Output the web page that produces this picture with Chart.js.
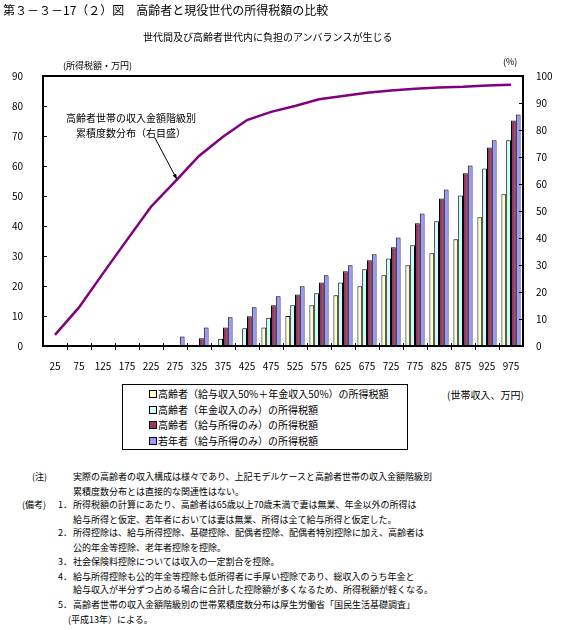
<!DOCTYPE html>
<html>
<head>
<meta charset="utf-8">
<script src="https://cdn.jsdelivr.net/npm/chart.js@4.4.1/dist/chart.umd.min.js"></script>
<style>
  body { margin: 0; background: #fff; font-family: "Noto Sans CJK JP", sans-serif; color: #000; }
  #wrap { position: relative; width: 567px; height: 630px; }
  #chart { position: absolute; left: 0; top: 0; }
  .t { position: absolute; white-space: nowrap; line-height: 1; }
  #legend { position: absolute; left: 122px; top: 384px; width: 284px; height: 64px; border: 1px solid #000; }
  .item { position: absolute; left: 26px; font-size: 10px; line-height: 1; white-space: nowrap; }
  .item span { display: inline-block; width: 6px; height: 6px; border: 1px solid #000; margin-right: 1px; vertical-align: 0px; }
  .note { font-size: 9px; }
</style>
</head>
<body>
<div id="wrap">
  <canvas id="chart" width="567" height="380"></canvas>
  <div class="t" style="left:3px;top:4px;font-size:12px;">第３－３－17（２）図　高齢者と現役世代の所得税額の比較</div>
  <div class="t" style="left:143px;top:32px;font-size:10px;">世代間及び高齢者世代内に負担のアンバランスが生じる</div>
  <div class="t" style="left:63px;top:61px;font-size:9px;">(所得税額・万円)</div>
  <div class="t" style="left:503px;top:57px;font-size:9px;">(%)</div>
  <div id="legend"></div>
  <div class="t" style="left:447px;top:390px;font-size:10px;">(世帯収入、万円)</div>
  <div id="notes"></div>
</div>
<script>
// 世帯収入（万円）
const incomeLabels = ['25', '75', '125', '175', '225', '275', '325', '375', '425', '475',
                      '525', '575', '625', '675', '725', '775', '825', '875', '925', '975'];

// 所得税額（万円）
const taxMixed       = [0, 0, 0, 0, 0, 0, 0, 0, 0, 6.2, 10.0, 13.6, 16.9, 19.9, 23.6, 26.9, 30.9, 35.6, 42.9, 50.6];
const taxPension     = [0, 0, 0, 0, 0, 0, 0, 2.4, 5.9, 9.4, 13.6, 17.6, 21.2, 25.6, 29.2, 33.6, 41.6, 50.2, 59.2, 68.6];
const taxElderSalary = [0, 0, 0, 0, 0, 0, 2.6, 6.2, 9.9, 13.6, 17.2, 21.2, 24.9, 28.6, 32.9, 40.9, 49.2, 57.6, 66.2, 75.2];
const taxYoungSalary = [0, 0, 0, 0, 0, 3.2, 6.2, 9.6, 12.9, 16.6, 19.9, 23.6, 26.9, 30.6, 36.2, 44.2, 52.2, 60.2, 68.6, 77.2];

// 高齢者世帯の収入金額階級別累積度数分布（%）
const cumulativeShare = [4.1, 14.3, 26.9, 39.3, 51.6, 60.9, 70.4, 77.5, 83.7, 86.7,
                         88.9, 91.4, 92.6, 93.8, 94.6, 95.3, 95.7, 96.0, 96.5, 96.8];

const seriesNames = [
  '高齢者（給与収入50%＋年金収入50%）の所得税額',
  '高齢者（年金収入のみ）の所得税額',
  '高齢者（給与所得のみ）の所得税額',
  '若年者（給与所得のみ）の所得税額'
];
const seriesColors = ['#FFFFCC', '#CCFFFF', '#993366', '#9999FF'];
const lineName = '高齢者世帯の収入金額階級別累積度数分布';

const taxTicks = { min: 0, max: 90, step: 10 };
const shareTicks = { min: 0, max: 100, step: 10 };

const noteLines = [
  ['(注)', 32, '', 0, '実際の高齢者の収入構成は様々であり、上記モデルケースと高齢者世帯の収入金額階級別'],
  ['', 0, '', 0, '累積度数分布とは直接的な関連性はない。'],
  ['(備考)', 22, '1．', 58, '所得税額の計算にあたり、高齢者は65歳以上70歳未満で妻は無業、年金以外の所得は'],
  ['', 0, '', 0, '給与所得と仮定、若年者においては妻は無業、所得は全て給与所得と仮定した。'],
  ['', 0, '2．', 58, '所得控除は、給与所得控除、基礎控除、配偶者控除、配偶者特別控除に加え、高齢者は'],
  ['', 0, '', 0, '公的年金等控除、老年者控除を控除。'],
  ['', 0, '3．', 58, '社会保険料控除については収入の一定割合を控除。'],
  ['', 0, '4．', 58, '給与所得控除も公的年金等控除も低所得者に手厚い控除であり、総収入のうち年金と'],
  ['', 0, '', 0, '給与収入が半分ずつ占める場合に合計した控除額が多くなるため、所得税額が軽くなる。'],
  ['', 0, '5．', 58, '高齢者世帯の収入金額階級別の世帯累積度数分布は厚生労働省「国民生活基礎調査」'],
  ['', 0, '', 0, '(平成13年）による。']
];
const noteTops = [472, 487, 500, 515, 528, 543, 557, 572, 585, 600, 615];

// 凡例
const legend = document.getElementById('legend');
seriesNames.forEach((name, i) => {
  const d = document.createElement('div');
  d.className = 'item';
  d.style.top = (4 + i * 15.7) + 'px';
  d.innerHTML = '<span style="background:' + seriesColors[i] + '"></span>' + name;
  legend.appendChild(d);
});

// 注・備考
const notes = document.getElementById('notes');
noteLines.forEach((l, i) => {
  const add = (txt, x) => {
    if (!txt) return;
    const d = document.createElement('div');
    d.className = 't note';
    d.style.left = x + 'px';
    d.style.top = noteTops[i] + 'px';
    d.textContent = txt;
    notes.appendChild(d);
  };
  add(l[0], l[1]);
  add(l[2], l[3]);
  add(l[4], (i === 10) ? 68 : 73);
});

const FONT = '"Noto Sans CJK JP", sans-serif';

// 枠線・目盛り・注釈
const framePlugin = {
  id: 'frame',
  afterDraw(chart) {
    const ctx = chart.ctx;
    const a = chart.chartArea;
    const x = chart.scales.x, y = chart.scales.y, y1 = chart.scales.y1;
    ctx.save();
    ctx.strokeStyle = '#000';
    ctx.lineWidth = 1;
    ctx.beginPath();
    y.ticks.forEach(t => {
      const py = Math.round(y.getPixelForValue(t.value)) + 0.5;
      ctx.moveTo(a.left, py); ctx.lineTo(a.left + 4, py);
    });
    y1.ticks.forEach(t => {
      const py = Math.round(y1.getPixelForValue(t.value)) + 0.5;
      ctx.moveTo(a.right - 4, py); ctx.lineTo(a.right, py);
    });
    const step = (a.right - a.left) / incomeLabels.length;
    for (let i = 1; i < incomeLabels.length; i++) {
      const px = Math.round(x.getPixelForValue(i) - step / 2) + 0.5;
      ctx.moveTo(px, a.bottom - 3); ctx.lineTo(px, a.bottom + 4);
    }
    ctx.stroke();

    ctx.lineWidth = 2;
    ctx.strokeRect(a.left, a.top, a.right - a.left, a.bottom - a.top);

    // 注釈と矢印
    const tx = a.left + 88, ty = a.top + 42;
    ctx.fillStyle = '#000';
    ctx.font = '10px ' + FONT;
    ctx.textAlign = 'center';
    ctx.textBaseline = 'middle';
    ctx.fillText('高齢者世帯の収入金額階級別', tx, ty);
    ctx.fillText('累積度数分布（右目盛）', tx, ty + 15);
    const ex = x.getPixelForValue(5) + 2;
    const ey = y1.getPixelForValue(cumulativeShare[5]) - 2;
    const sx = a.left + 112, sy = a.top + 62;
    ctx.lineWidth = 1;
    ctx.beginPath();
    ctx.moveTo(sx, sy); ctx.lineTo(ex, ey);
    ctx.stroke();
    const ang = Math.atan2(ey - sy, ex - sx);
    ctx.beginPath();
    ctx.moveTo(ex, ey);
    ctx.lineTo(ex - 6 * Math.cos(ang - 0.35), ey - 6 * Math.sin(ang - 0.35));
    ctx.lineTo(ex - 6 * Math.cos(ang + 0.35), ey - 6 * Math.sin(ang + 0.35));
    ctx.closePath();
    ctx.fill();
    ctx.restore();
  }
};

const barSets = [taxMixed, taxPension, taxElderSalary, taxYoungSalary].map((data, i) => ({
  type: 'bar',
  label: seriesNames[i],
  data: data,
  backgroundColor: seriesColors[i],
  borderColor: '#000',
  borderWidth: 1,
  yAxisID: 'y',
  order: 2
}));

new Chart(document.getElementById('chart').getContext('2d'), {
  data: {
    labels: incomeLabels,
    datasets: [
      {
        type: 'line',
        label: lineName,
        data: cumulativeShare,
        borderColor: '#800080',
        borderWidth: 2.5,
        pointRadius: 0,
        tension: 0,
        fill: false,
        yAxisID: 'y1',
        order: 1
      },
      ...barSets
    ]
  },
  options: {
    responsive: false,
    animation: false,
    layout: { padding: { top: 76, left: 0, right: 0, bottom: 0 } },
    datasets: { bar: { categoryPercentage: 0.8, barPercentage: 1.0 } },
    plugins: { legend: { display: false }, tooltip: { enabled: false } },
    scales: {
      x: {
        grid: { display: false },
        border: { display: false },
        ticks: { color: '#000', font: { size: 10, family: FONT }, padding: 6, maxRotation: 0, autoSkip: false },
        afterFit: s => { s.height = 34; }
      },
      y: {
        position: 'left',
        min: taxTicks.min, max: taxTicks.max,
        grid: { display: false },
        border: { display: false },
        ticks: { stepSize: taxTicks.step, color: '#000', font: { size: 10, family: FONT }, padding: 12 },
        afterFit: s => { s.width = 43; }
      },
      y1: {
        position: 'right',
        min: shareTicks.min, max: shareTicks.max,
        grid: { display: false },
        border: { display: false },
        ticks: { stepSize: shareTicks.step, color: '#000', font: { size: 10, family: FONT }, padding: 5 },
        afterFit: s => { s.width = 44; }
      }
    }
  },
  plugins: [framePlugin]
});
</script>
</body>
</html>
